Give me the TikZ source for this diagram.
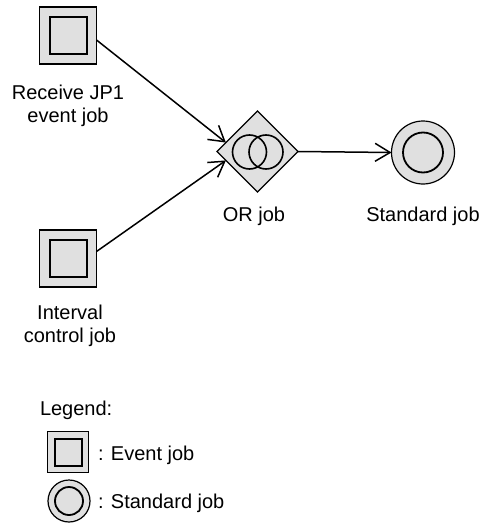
\documentclass[tikz,border=0pt]{standalone}
\usepackage{fontspec}
\setmainfont{Liberation Sans}
\usetikzlibrary{shapes.geometric,arrows.meta,calc}
\definecolor{jpgray}{RGB}{224,224,224}
\begin{document}
\begin{tikzpicture}[x=1pt,y=-1pt,
  every node/.style={inner sep=0pt,outer sep=0pt},
  txt/.style={font=\fontsize{20}{23}\selectfont,align=center},
  evout/.style={draw,line width=1.2pt,fill=jpgray,minimum size=#1},
  evin/.style={draw,line width=2pt,fill=jpgray,minimum size=#1},
  stdout/.style={draw,circle,line width=1.2pt,fill=jpgray,minimum size=#1},
  stdin/.style={draw,circle,line width=1.8pt,fill=jpgray,minimum size=#1},
  orbox/.style={draw,diamond,line width=1.2pt,fill=jpgray,minimum width=81pt,minimum height=81pt,aspect=1},
  orring/.style={draw,circle,line width=1.6pt,minimum size=34pt},
  arr/.style={line width=1.5pt,-{Straight Barb[length=15pt,width=18pt,line width=1.5pt]}}
]
\useasboundingbox (0,0) rectangle (483,527);

% Receive JP1 event job
\node[evout=57pt] (rcv) at (68,35.5) {};
\node[evin=37pt] (rcvin) at (68,35.5) {};
\node[txt,anchor=north] (rcvlbl) at (68,85.5) {Receive JP1\\event job};

% Interval control job
\node[evout=57pt] (ivl) at (68,258.5) {};
\node[evin=37pt] (ivlin) at (68,258.5) {};
\node[txt,anchor=north] (ivllbl) at (70,305.5) {Interval\\control job};

% OR job
\node[orbox] (or) at (257.5,151.5) {};
\node[orring] (orl) at (249.5,152) {};
\node[orring] (orr) at (266,152) {};
\node[txt,anchor=north] (orlbl) at (254,207) {OR job};

% Standard job
\node[stdout=63pt] (std) at (423,152.5) {};
\node[stdin=40pt] (stdi) at (423,152.5) {};
\node[txt,anchor=north] (stdlbl) at (423,207) {Standard job};

% connectors
\coordinate (ortop) at ($(or.west)!0.22!(or.north)$);
\coordinate (orbot) at ($(or.west)!0.22!(or.south)$);
\draw[arr] ([yshift=-4.5pt]rcv.east) -- (ortop);
\draw[arr] ([yshift=7pt]ivl.east) -- (orbot);
\draw[arr] (or.east) -- (std.west);

% Legend
\node[txt,anchor=base west] (leg) at (40,415) {Legend:};
\node[evout=41pt] (lev) at (68,452) {};
\node[evin=27pt] (levin) at (68,452) {};
\node[txt,anchor=base west] (levlbl) at (98,460) {: Event job};
\node[stdout=42pt] (lstd) at (69,501) {};
\node[stdin=28pt] (lstdin) at (69,501) {};
\node[txt,anchor=base west] (lstdlbl) at (98,508) {: Standard job};
\end{tikzpicture}
\end{document}
